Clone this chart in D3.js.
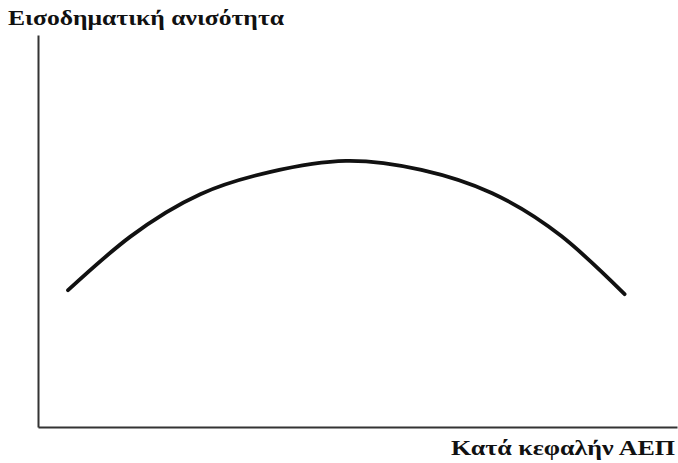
<!DOCTYPE html>
<html>
<head>
<meta charset="utf-8">
<script src="https://cdn.jsdelivr.net/npm/d3@7"></script>
<style>
  body { margin: 0; background: #fff; }
  .axis-title { font-family: "Liberation Serif", "DejaVu Serif", serif; font-weight: bold; fill: #111; }
  .axis path { stroke: #333; stroke-width: 2; }
</style>
</head>
<body>
<div id="chart"></div>
<script>
// Kuznets curve: income inequality vs per capita GDP (schematic, arbitrary units)
const gdp        = [4.7, 14.4, 25.4, 36.4, 48.2, 60.0, 71.0, 81.9, 91.8];
const inequality = [34.9, 48.5, 59.4, 65.1, 67.9, 65.6, 59.7, 48.7, 33.9];
const yTitle = "Εισοδηματική ανισότητα";
const xTitle = "Κατά κεφαλήν ΑΕΠ";

const W = 678, H = 463;
const margin = {top: 35, right: 1, bottom: 36, left: 38};

const svg = d3.select("#chart").append("svg")
    .attr("width", W)
    .attr("height", H);

const x = d3.scaleLinear().domain([0, 100]).range([margin.left, W - margin.right]);
const y = d3.scaleLinear().domain([0, 100]).range([H - margin.bottom, margin.top]);

// axes: plain lines, no ticks
svg.append("g")
    .attr("class", "axis")
    .attr("transform", `translate(0,${y(0)})`)
    .call(d3.axisBottom(x).ticks(0).tickSizeOuter(0));

svg.append("g")
    .attr("class", "axis")
    .attr("transform", `translate(${x(0)},0)`)
    .call(d3.axisLeft(y).ticks(0).tickSizeOuter(0));

// the curve
const data = gdp.map((g, i) => ({g: g, v: inequality[i]}));
const line = d3.line()
    .x(d => x(d.g))
    .y(d => y(d.v))
    .curve(d3.curveNatural);

svg.append("path")
    .datum(data)
    .attr("fill", "none")
    .attr("stroke", "#111")
    .attr("stroke-width", 3.8)
    .attr("stroke-linecap", "round")
    .attr("d", line);

// titles
svg.append("text")
    .attr("class", "axis-title")
    .attr("x", 8)
    .attr("y", 25)
    .attr("font-size", 21)
    .attr("textLength", 276)
    .attr("lengthAdjust", "spacingAndGlyphs")
    .text(yTitle);

svg.append("text")
    .attr("class", "axis-title")
    .attr("x", 451)
    .attr("y", 455)
    .attr("font-size", 20)
    .attr("textLength", 224)
    .attr("lengthAdjust", "spacingAndGlyphs")
    .text(xTitle);
</script>
</body>
</html>
